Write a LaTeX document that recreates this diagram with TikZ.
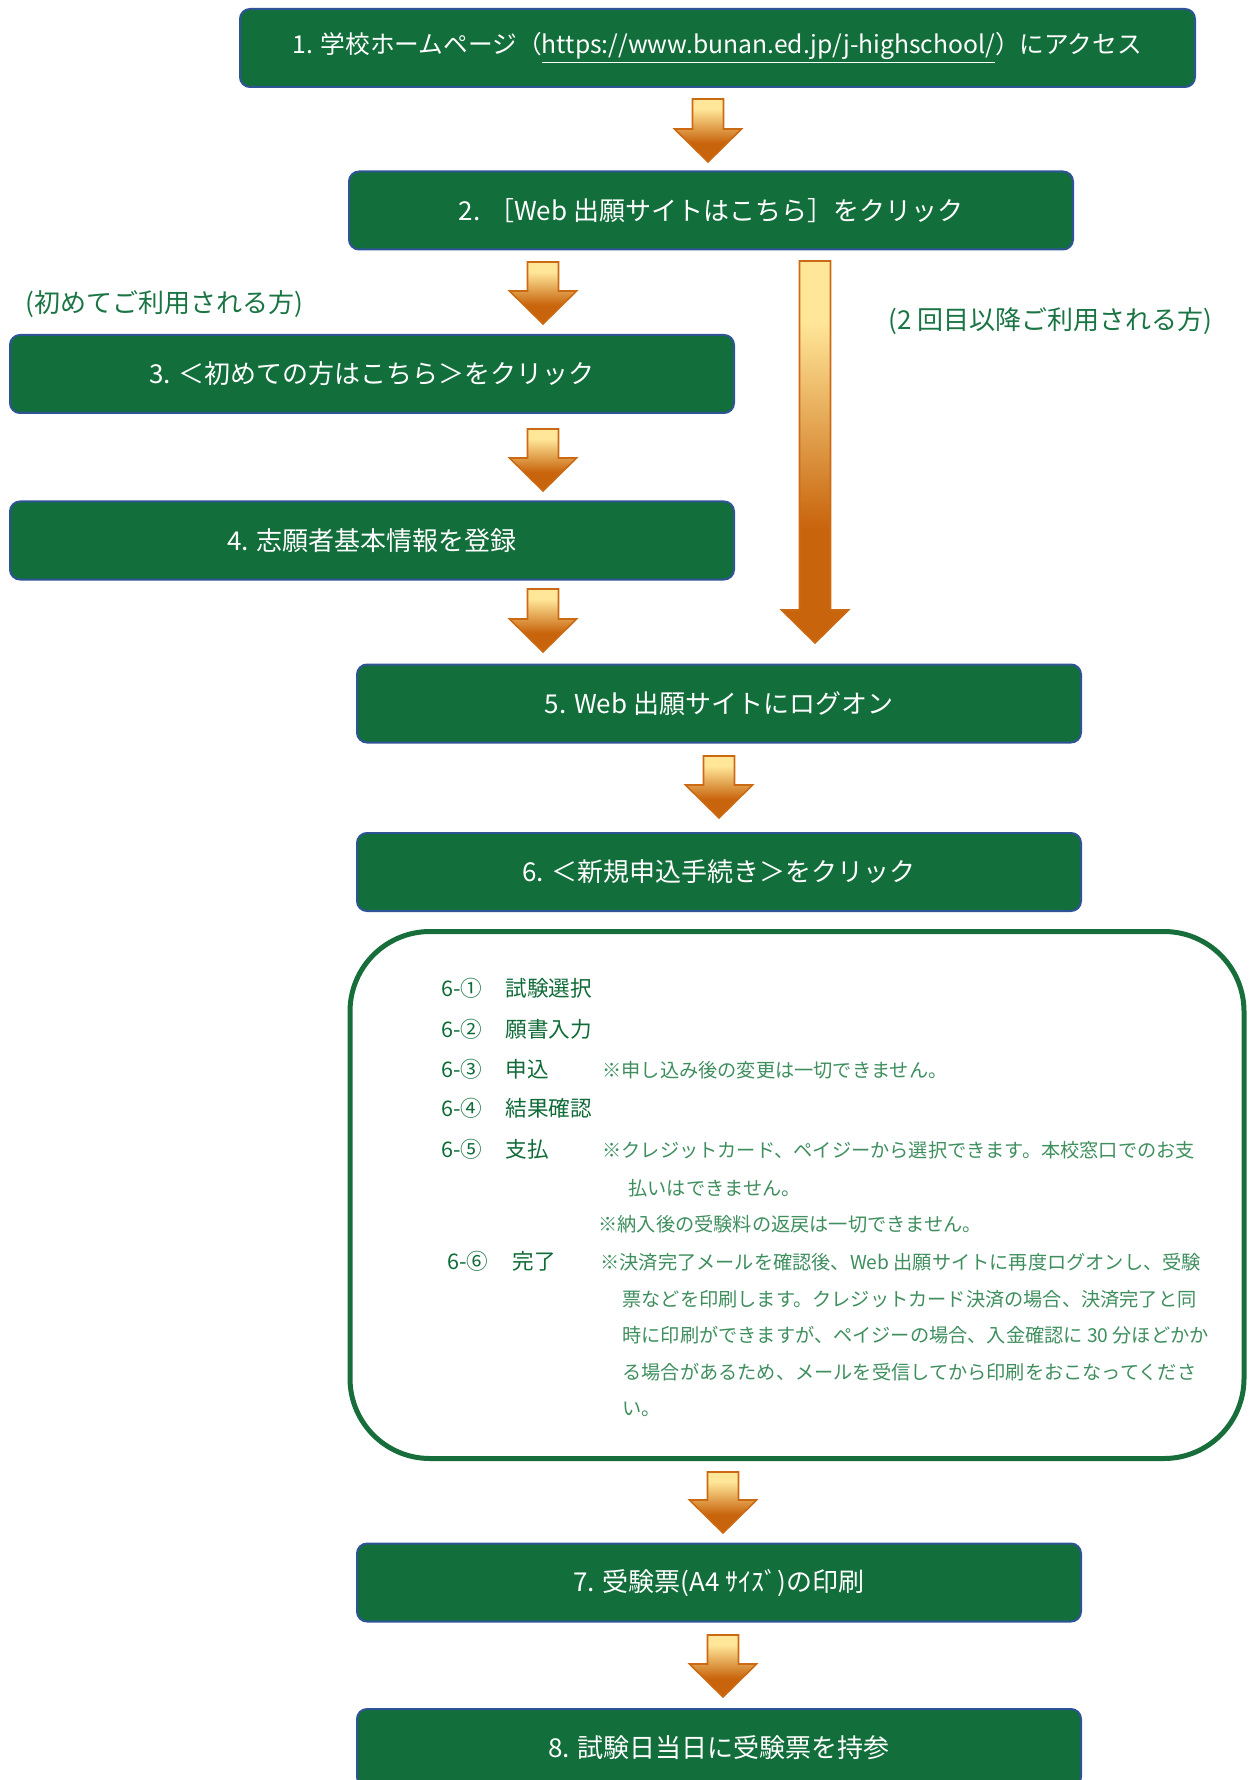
\documentclass[tikz,border=0pt]{standalone}
\usepackage{fontspec}
\setmainfont{Noto Sans CJK JP}
\usetikzlibrary{calc}

\definecolor{boxgreen}{HTML}{126E3B}
\definecolor{boxline}{HTML}{2F5496}
\definecolor{listline}{HTML}{176E3B}
\definecolor{labelgreen}{HTML}{1A7444}
\definecolor{itemgreen}{HTML}{0F6B37}
\definecolor{notegreen}{HTML}{3E8E5E}
\definecolor{arrowtop}{HTML}{FFE699}
\definecolor{arrowbot}{HTML}{C8640C}
\definecolor{arrowline}{HTML}{CC6A14}

\pgfdeclareverticalshading{arrowshade}{100bp}{color(0bp)=(arrowbot); color(25bp)=(arrowbot); color(40bp)=(arrowbot); color(67bp)=(arrowtop); color(100bp)=(arrowtop)}

\tikzset{
  stepbox/.style={draw=boxline, fill=boxgreen, line width=1pt, rounded corners=5pt,
    text=white, inner sep=0pt, minimum width=362pt, minimum height=39pt,
    font=\fontsize{13}{15}\selectfont},
  sidelabel/.style={anchor=west, inner sep=0pt, text=labelgreen, font=\fontsize{13}{15}\selectfont},
  listbox/.style={draw=listline, line width=2.5pt, rounded corners=40pt, inner sep=0pt,
    minimum width=447pt, minimum height=263.5pt},
  itemtext/.style={anchor=base west, inner sep=0pt, text=itemgreen, font=\fontsize{10.8}{13}\selectfont},
  notetext/.style={anchor=base west, inner sep=0pt, text=notegreen, font=\fontsize{9.6}{12}\selectfont},
  arrowbody/.style={draw=arrowline, line width=0.8pt, shade, shading=arrowshade},
}

% block arrow from the top of its shaft (#1) to its tip (#2)
\newcommand{\blockarrow}[2]{%
  \path[arrowbody] let \p1=(#1), \p2=(#2) in
    (\x1-7.75pt,\y1) -- (\x1+7.75pt,\y1) -- (\x1+7.75pt,\y2+16.5pt) -- (\x1+16.75pt,\y2+16.5pt)
    -- (\x1,\y2) -- (\x1-16.75pt,\y2+16.5pt) -- (\x1-7.75pt,\y2+16.5pt) -- cycle;}

\begin{document}
\begin{tikzpicture}[x=0.5pt,y=-0.5pt]
\useasboundingbox (0,0) rectangle (1248,1780);

% steps
\node[stepbox, minimum width=477.5pt, font=\fontsize{12.35}{15}\selectfont] (s1) at (717.5,48)
  {1. 学校ホームページ（\underline{https://www.bunan.ed.jp/j-highschool/}）にアクセス};
\node[stepbox] (s2) at (711,210.5) {2. ［Web 出願サイトはこちら］をクリック};
\node[stepbox] (s3) at (372,374) {3. ＜初めての方はこちら＞をクリック};
\node[stepbox] (s4) at (372,540.5) {4. 志願者基本情報を登録};
\node[stepbox] (s5) at (719,703.5) {5. Web 出願サイトにログオン};
\node[stepbox] (s6) at (719,872) {6. ＜新規申込手続き＞をクリック};
\node[stepbox] (s7) at (719,1582.5) {7. 受験票(A4 ｻｲｽﾞ)の印刷};
\node[stepbox] (s8) at (719,1748) {8. 試験日当日に受験票を持参};

\node[sidelabel] (first) at (25,304) {(初めてご利用される方)};
\node[sidelabel] (again) at (888,321) {(2 回目以降ご利用される方)};

% arrows
\coordinate (a1s) at (708,99);  \coordinate (a1e) at (708,162);
\coordinate (a2s) at (543,262); \coordinate (a2e) at (543,324);
\coordinate (a3s) at (543,429); \coordinate (a3e) at (543,491);
\coordinate (a4s) at (543,589); \coordinate (a4e) at (543,652);
\coordinate (als) at (815,261); \coordinate (ale) at (815,643);
\coordinate (a5s) at (719,756); \coordinate (a5e) at (719,818);
\coordinate (a6s) at (723,1472); \coordinate (a6e) at (723,1533);
\coordinate (a7s) at (723,1635); \coordinate (a7e) at (723,1697);
\blockarrow{a1s}{a1e}
\blockarrow{a2s}{a2e}
\blockarrow{a3s}{a3e}
\blockarrow{a4s}{a4e}
\blockarrow{als}{ale}
\blockarrow{a5s}{a5e}
\blockarrow{a6s}{a6e}
\blockarrow{a7s}{a7e}

% details of step 6
\node[listbox] (list) at (797,1195) {};
\node[itemtext] (i1n) at (441,996) {6-①};
\node[itemtext] (i1t) at (505,996) {試験選択};
\node[itemtext] (i2n) at (441,1037) {6-②};
\node[itemtext] (i2t) at (505,1037) {願書入力};
\node[itemtext] (i3n) at (441,1077) {6-③};
\node[itemtext] (i3t) at (505,1077) {申込};
\node[notetext] (n3) at (602,1077) {※申し込み後の変更は一切できません。};
\node[itemtext] (i4n) at (441,1116) {6-④};
\node[itemtext] (i4t) at (505,1116) {結果確認};
\node[itemtext] (i5n) at (441,1157) {6-⑤};
\node[itemtext] (i5t) at (505,1157) {支払};
\node[notetext] (n5a) at (602,1157) {※クレジットカード、ペイジーから選択できます。本校窓口でのお支};
\node[notetext] (n5b) at (628,1195) {払いはできません。};
\node[notetext] (n5c) at (598,1231) {※納入後の受験料の返戻は一切できません。};
\node[itemtext] (i6n) at (447,1269) {6-⑥};
\node[itemtext] (i6t) at (512,1269) {完了};
\node[notetext] (n6a) at (600,1269) {※決済完了メールを確認後、Web 出願サイトに再度ログオンし、受験};
\node[notetext] (n6b) at (622,1306) {票などを印刷します。クレジットカード決済の場合、決済完了と同};
\node[notetext] (n6c) at (622,1342) {時に印刷ができますが、ペイジーの場合、入金確認に 30 分ほどかか};
\node[notetext] (n6d) at (622,1379) {る場合があるため、メールを受信してから印刷をおこなってくださ};
\node[notetext] (n6e) at (622,1415) {い。};
\end{tikzpicture}
\end{document}
